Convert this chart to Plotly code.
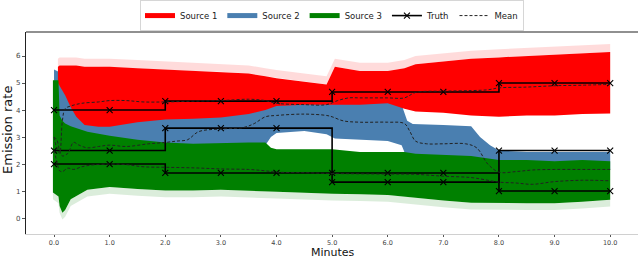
import plotly.graph_objects as go

# ---------------- data ----------------
# Source 1 (red) band
s1_t = [0.07, 0.1, 0.2, 0.3, 0.4, 0.55, 0.8, 1.0, 1.5, 2.0, 2.5, 3.0, 3.5, 3.8, 4.0, 4.5, 4.9, 5.05,
        5.5, 6.0, 6.3, 6.5, 7.0, 7.5, 8.0, 8.5, 9.0, 9.5, 10.0]
s1_hi = [5.6, 5.65, 5.65, 5.65, 5.65, 5.6, 5.6, 5.6, 5.55, 5.5, 5.45, 5.42, 5.35, 5.25, 5.18, 5.05, 4.95, 5.6,
         5.45, 5.45, 5.55, 5.7, 5.8, 5.9, 5.95, 6.0, 6.05, 6.1, 6.15]
s1_lo = [5.0, 4.9, 4.55, 4.1, 3.75, 3.45, 3.38, 3.38, 3.55, 3.65, 3.68, 3.72, 3.85, 4.0, 4.15, 4.2, 4.2, 4.2,
         4.2, 4.25, 4.05, 3.95, 3.9, 3.8, 3.75, 3.8, 3.8, 3.85, 3.87]

# Source 2 (blue) band
s2_t = [0.0, 0.1, 0.2, 0.3, 1.0, 2.0, 3.0, 3.8, 3.9, 4.0, 4.5, 4.9, 5.05, 5.5, 6.0, 6.25, 6.35, 6.45,
        7.0, 7.5, 7.66, 7.84, 8.0, 8.5, 9.0, 9.5, 10.0]
s2_hi = [5.5, 5.4, 5.0, 4.6, 4.5, 4.5, 4.5, 4.5, 4.5, 4.5, 4.5, 4.5, 4.5, 4.5, 4.4, 4.2, 3.6, 3.48,
         3.45, 3.4, 3.0, 2.7, 2.5, 2.45, 2.45, 2.45, 2.45]
s2_lo = [2.0, 2.0, 2.0, 2.0, 2.0, 2.0, 2.0, 2.7, 3.0, 3.15, 3.22, 3.1, 2.95, 2.9, 2.85, 2.7, 2.2, 2.0,
         2.0, 2.0, 2.0, 2.0, 1.8, 1.8, 1.8, 1.8, 1.8]

# Source 3 (green) band
s3_t = [-0.02, 0.08, 0.1, 0.15, 0.2, 0.3, 0.6, 1.0, 1.5, 2.0, 2.5, 3.0, 3.5, 3.8, 3.9, 4.0, 5.0, 5.5,
        6.0, 6.3, 6.5, 7.0, 7.5, 8.0, 8.5, 9.0, 9.5, 10.0]
s3_hi = [5.1, 5.1, 3.8, 3.6, 3.5, 3.4, 3.2, 3.05, 2.9, 2.8, 2.75, 2.78, 2.8, 2.8, 2.6, 2.55, 2.55, 2.45,
         2.45, 2.45, 2.38, 2.35, 2.3, 2.15, 2.15, 2.1, 2.15, 2.1]
s3_lo = [0.95, 0.8, 0.45, 0.2, 0.3, 0.7, 1.05, 1.15, 1.08, 1.02, 1.02, 1.05, 1.02, 0.98, 0.98, 0.97, 0.9, 0.88,
         0.85, 0.8, 0.75, 0.65, 0.57, 0.55, 0.55, 0.55, 0.6, 0.68]

# Truth (step values at each minute)
truth_t = [0, 1, 2, 3, 4, 5, 6, 7, 8, 9, 10]
truth_1 = [4.0, 4.0, 4.33, 4.33, 4.33, 4.67, 4.67, 4.67, 5.0, 5.0, 5.0]
truth_2 = [2.5, 2.5, 3.33, 3.33, 3.33, 1.33, 1.33, 1.33, 2.5, 2.5, 2.5]
truth_3 = [2.0, 2.0, 1.67, 1.67, 1.67, 1.67, 1.67, 1.67, 1.0, 1.0, 1.0]

# Posterior means
m1_t = [0.0, 0.05, 0.1, 0.15, 0.2, 0.3, 0.5, 0.8, 1.0, 1.3, 1.6, 2.0, 2.5, 3.0, 3.5, 3.8, 4.0, 4.5, 4.9,
        5.1, 5.3, 5.5, 6.0, 6.3, 6.5, 7.0, 7.5, 7.8, 8.0, 8.5, 9.0, 9.5, 10.0]
m1_v = [3.0, 2.6, 2.4, 3.6, 4.05, 4.15, 4.25, 4.3, 4.35, 4.35, 4.3, 4.3, 4.33, 4.35, 4.4, 4.35, 4.25, 4.2, 4.2,
        4.35, 4.45, 4.45, 4.45, 4.45, 4.65, 4.7, 4.72, 4.75, 4.82, 4.85, 4.9, 4.92, 4.95]
m2_t = [0.0, 0.05, 0.1, 0.15, 0.25, 0.35, 0.45, 0.6, 0.8, 1.0, 1.3, 1.7, 2.0, 2.2, 2.4, 2.6, 3.0, 3.4, 3.6,
        3.8, 4.0, 4.5, 4.9, 5.0, 5.2, 5.5, 6.0, 6.3, 6.4, 6.5, 6.7, 7.0, 7.4, 7.6, 7.8, 8.0, 8.3, 8.6,
        9.0, 9.5, 10.0]
m2_v = [3.0, 2.9, 2.5, 2.3, 2.4, 2.8, 2.7, 2.6, 2.65, 2.7, 2.65, 2.75, 2.8, 2.85, 2.9, 3.2, 3.3, 3.35, 3.5,
        3.75, 3.8, 3.85, 3.8, 3.75, 3.6, 3.55, 3.55, 3.5, 3.2, 2.85, 2.75, 2.75, 2.75, 2.6, 2.0, 1.7, 1.72,
        1.78, 1.8, 1.8, 1.8]
m3_t = [0.0, 0.05, 0.1, 0.15, 0.25, 0.35, 0.5, 0.7, 1.0, 1.3, 1.6, 2.0, 2.5, 3.0, 3.5, 3.8, 4.0, 4.5, 5.0,
        6.0, 6.5, 7.0, 7.5, 7.8, 8.0, 8.3, 8.6, 9.0, 9.5, 10.0]
m3_v = [2.5, 2.1, 1.75, 1.72, 1.85, 1.8, 1.9, 1.97, 2.0, 1.98, 1.9, 1.88, 1.86, 1.82, 1.8, 1.75, 1.7, 1.68,
        1.65, 1.63, 1.62, 1.55, 1.5, 1.4, 1.33, 1.3, 1.25, 1.35, 1.4, 1.38]

x_tickvals = [0, 1, 2, 3, 4, 5, 6, 7, 8, 9, 10]
x_ticktext = ["0.0", "1.0", "2.0", "3.0", "4.0", "5.0", "6.0", "7.0", "8.0", "9.0", "10.0"]
y_tickvals = [0, 1, 2, 3, 4, 5, 6]
legend_names = ["Source 1", "Source 2", "Source 3"]

# ---------------- styling ----------------
RED = "#ff0000"
BLUE = "#4a7fb0"
GREEN = "#008000"
FONT = "DejaVu Sans"

fig = go.Figure()


def band(t, hi, lo, color, opacity=1.0):
    fig.add_trace(go.Scatter(
        x=list(t) + list(t)[::-1], y=list(hi) + list(lo)[::-1],
        fill="toself", fillcolor=color, opacity=opacity,
        line=dict(width=0), mode="lines", hoverinfo="skip", showlegend=False))


# soft halo on the outer edges (scattered samples)
band(s1_t, [v + 0.3 for v in s1_hi], s1_hi, RED, 0.14)
band(s3_t, s3_lo, [v - 0.25 for v in s3_lo], GREEN, 0.14)
# main clouds: source 2 underneath, then source 1, then source 3
band(s2_t, s2_hi, s2_lo, BLUE)
band(s1_t, s1_hi, s1_lo, RED)
band(s3_t, s3_hi, s3_lo, GREEN)

# legend swatches
for name, col in zip(legend_names, [RED, BLUE, GREEN]):
    fig.add_trace(go.Scatter(x=[None], y=[None], mode="lines", name=name,
                             line=dict(color=col, width=5)))

# truth
for i, tv in enumerate([truth_1, truth_2, truth_3]):
    fig.add_trace(go.Scatter(
        x=truth_t, y=tv, mode="lines+markers", line_shape="hv",
        line=dict(color="black", width=1.6),
        marker=dict(symbol="x-thin", size=6, line=dict(color="black", width=1.1)),
        name="Truth", legendgroup="truth", showlegend=(i == 0), hoverinfo="skip"))

# means
for i, (mt, mv) in enumerate([(m1_t, m1_v), (m2_t, m2_v), (m3_t, m3_v)]):
    fig.add_trace(go.Scatter(
        x=mt, y=mv, mode="lines", line_shape="spline",
        line=dict(color="#222222", width=1, dash="3px,2px"),
        name="Mean", legendgroup="mean", showlegend=(i == 0), hoverinfo="skip"))

fig.update_layout(
    width=640, height=260,
    margin=dict(l=26, r=2, t=32, b=26, autoexpand=False),
    paper_bgcolor="white", plot_bgcolor="white",
    font=dict(family=FONT, size=8, color="#333333"),
    showlegend=True,
    legend=dict(orientation="h", x=0.5, xanchor="center", y=1.158, yanchor="top",
                bgcolor="white", bordercolor="#d6d6d6", borderwidth=1,
                font=dict(family=FONT, size=8.5, color="#222222"),
                itemwidth=30, tracegroupgap=0),
    xaxis=dict(range=[-0.504, 10.5], tickvals=x_tickvals, ticktext=x_ticktext, automargin=False,
               showgrid=False, zeroline=False, showline=True, linecolor="#d0d0d0", linewidth=1,
               ticks="outside", ticklen=2, tickcolor="#555555", tickwidth=1,
               tickfont=dict(family=FONT, size=6.5, color="#444444")),
    yaxis=dict(range=[-0.59, 6.89], tickvals=y_tickvals, automargin=False,
               showgrid=False, zeroline=False, showline=True, linecolor="#222222", linewidth=1.2,
               ticks="outside", ticklen=3, tickcolor="#555555", tickwidth=1,
               tickfont=dict(family=FONT, size=7, color="#444444")),
    shapes=[dict(type="line", xref="paper", yref="paper", x0=0, x1=1, y0=1, y1=1,
                 line=dict(color="#222222", width=1.2))],
    annotations=[
        dict(text="Emission rate", xref="paper", yref="paper", x=-0.0294, y=0.515,
             textangle=-90, showarrow=False, xanchor="center", yanchor="middle",
             font=dict(family=FONT, size=13, color="#111111")),
        dict(text="Minutes", xref="paper", yref="paper", x=0.502, y=-0.1287,
             showarrow=False, xanchor="center", yanchor="bottom", borderpad=0,
             font=dict(family=FONT, size=11, color="#111111")),
    ],
)

fig.write_html("out.html", config={"displayModeBar": False, "staticPlot": True},
               post_script="document.body.style.margin='0px';document.body.style.overflow='hidden';")
